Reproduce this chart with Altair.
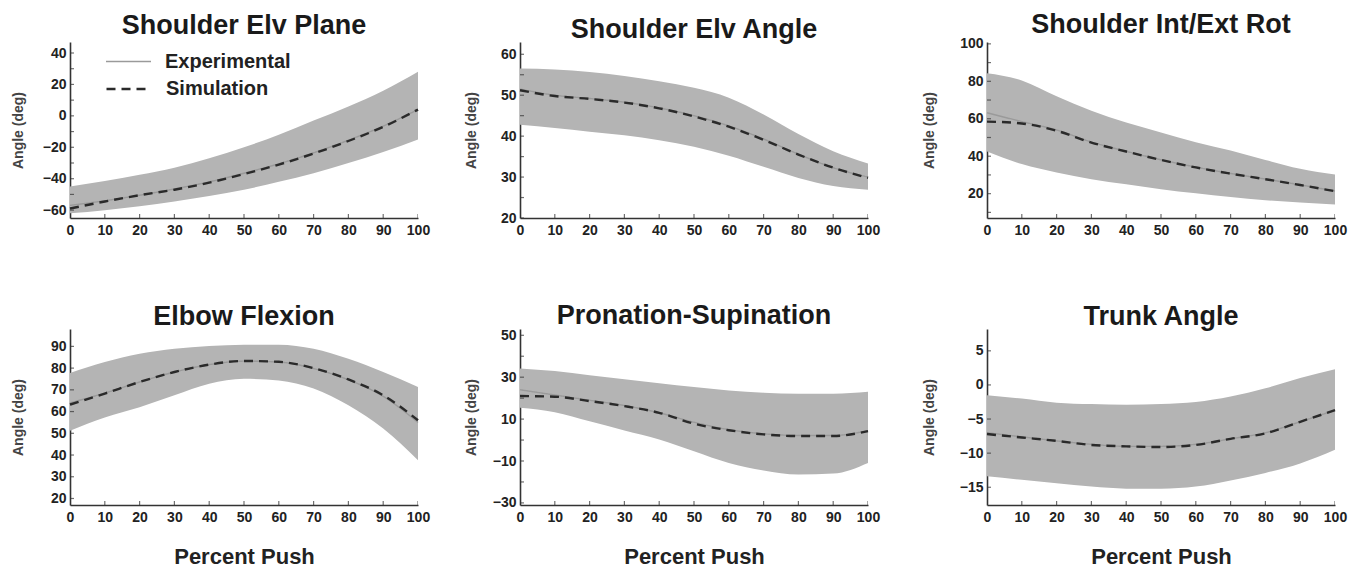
import altair as alt
import pandas as pd

# Percent of the push phase at which each curve is sampled
pct = [0, 10, 20, 30, 40, 50, 60, 70, 80, 90, 100]
series_names = ["Experimental", "Simulation"]

# Shoulder elevation plane (deg): experimental mean +/- SD band, experimental mean, simulation
elv_plane_upper = [-45, -41.5, -37.5, -33, -27, -20, -12, -3, 6, 16, 28]
elv_plane_lower = [-62, -60, -57.5, -54.5, -51, -47, -42, -36.5, -30, -23, -15]
elv_plane_exp = [-57, -54, -50.5, -46.5, -42, -36.5, -30.5, -23.5, -15.5, -6.5, 4]
elv_plane_sim = [-59, -54.5, -50.5, -47, -42.5, -37, -31, -24, -16, -7, 4]

# Shoulder elevation angle (deg)
elv_angle_upper = [56.5, 56.3, 55.7, 54.7, 53.4, 51.8, 49.4, 45.3, 40.5, 36.3, 33.3]
elv_angle_lower = [42.8, 42, 41.1, 40.2, 39, 37.4, 35.2, 32.5, 29.8, 27.8, 26.9]
elv_angle_exp = [51.5, 50, 49.2, 48.3, 46.9, 45, 42.5, 39.3, 35.6, 32.3, 30]
elv_angle_sim = [51.2, 49.8, 49.1, 48.2, 46.8, 44.8, 42.3, 39.1, 35.5, 32.3, 29.8]

# Shoulder internal/external rotation (deg)
rotation_upper = [84.3, 80.5, 72, 64.3, 58, 52.7, 47.5, 43, 38, 33.3, 30.2]
rotation_lower = [42.5, 35.8, 31.3, 27.7, 25, 22.4, 20.2, 18.2, 16.5, 15.3, 14.2]
rotation_exp = [63.2, 58.5, 54, 47.6, 42.6, 38.1, 34.2, 30.8, 27.8, 24.7, 21.4]
rotation_sim = [58.5, 57.5, 53.6, 47.3, 42.5, 38, 34, 30.7, 27.7, 24.6, 21.3]

# Elbow flexion (deg)
elbow_upper = [77.8, 82.8, 86.6, 88.9, 90.2, 90.8, 90.8, 88.9, 84.3, 78.2, 71.3]
elbow_lower = [51.2, 57.3, 62, 67.5, 72.8, 75.1, 74.3, 70.6, 62.9, 52.2, 37.6]
elbow_exp = [64, 68.5, 73.6, 78.2, 81.6, 83.2, 82.8, 79.8, 74.6, 67, 55]
elbow_sim = [63.2, 68.3, 73.6, 78.2, 81.6, 83.3, 82.9, 80, 74.8, 67.5, 56]

# Pronation-supination (deg)
pronation_upper = [34.2, 32.9, 30.9, 29, 27.1, 25.3, 23.7, 22.6, 22.1, 22.1, 23]
pronation_lower = [15.4, 13.3, 9, 4.6, 0.3, -5.3, -10.9, -14.5, -16.5, -16, -10.9]
pronation_exp = [24, 21.5, 19, 16.5, 13, 8.5, 5, 3, 2.2, 2.2, 4.5]
pronation_sim = [21, 20.7, 18.6, 16.2, 13, 7.8, 4.7, 2.7, 1.9, 1.9, 4.3]

# Trunk angle (deg)
trunk_upper = [-1.5, -2, -2.6, -2.8, -2.9, -2.8, -2.5, -1.7, -0.5, 1, 2.3]
trunk_lower = [-13.4, -13.9, -14.4, -14.9, -15.2, -15.2, -14.9, -14, -12.9, -11.5, -9.5]
trunk_exp = [-7, -7.6, -8.2, -8.7, -9, -9, -8.7, -7.9, -7, -5.4, -3.7]
trunk_sim = [-7.2, -7.7, -8.2, -8.8, -9, -9.1, -8.8, -7.9, -7.1, -5.4, -3.7]

# Axis ranges, labelled values and tick positions of each panel
elv_plane_domain, elv_plane_labels = [-65, 47], [-60, -40, -20, 0, 20, 40]
elv_plane_ticks = [-60, -50, -40, -30, -20, -10, 0, 10, 20, 30, 40]
elv_angle_domain, elv_angle_labels = [20, 63], [20, 30, 40, 50, 60]
elv_angle_ticks = [20, 25, 30, 35, 40, 45, 50, 55, 60]
rotation_domain, rotation_labels = [7, 101], [20, 40, 60, 80, 100]
rotation_ticks = [10, 20, 30, 40, 50, 60, 70, 80, 90, 100]
elbow_domain, elbow_labels = [17, 98], [20, 30, 40, 50, 60, 70, 80, 90]
elbow_ticks = [20, 30, 40, 50, 60, 70, 80, 90]
pronation_domain, pronation_labels = [-31, 53], [-30, -10, 10, 30, 50]
pronation_ticks = [-30, -20, -10, 0, 10, 20, 30, 40, 50]
trunk_domain, trunk_labels = [-17.6, 8.2], [-15, -10, -5, 0, 5]
trunk_ticks = [-15, -10, -5, 0, 5]

FONT = "Liberation Sans, Arial, Helvetica, sans-serif"
BAND = "#b4b4b4"
AXIS = "#333333"
EXP_COLOR, SIM_COLOR = "#9a9a9a", "#2a2a2a"
EXP_WIDTH, SIM_WIDTH = 1.4, 2.4
EXP_DASH, SIM_DASH = [1, 0], [9, 6]


def legend_entry(name, y, stroke_color, stroke_width):
    # One-entry legend placed inside the first panel
    return alt.Legend(
        title=None, orient="none", legendX=35, legendY=y, padding=0,
        values=[name], symbolType="stroke", symbolSize=2025, labelOffset=13,
        symbolStrokeColor=stroke_color, symbolStrokeWidth=stroke_width,
        labelFont=FONT, labelFontSize=20, labelFontWeight="bold", labelColor="#222222",
    )


def make_panel(title, upper, lower, exp_mean, sim, y_domain, y_labels, y_ticks,
               y_extent, x_title, show_legend):
    band_df = pd.DataFrame({"pct": pct, "upper": upper, "lower": lower})
    series = [series_names[0]] * len(pct) + [series_names[1]] * len(pct)
    line_df = pd.DataFrame({
        "pct": pct + pct,
        "angle": exp_mean + sim,
        "series": series,
        "series_style": series,
    })
    ytick_df = pd.DataFrame({"pct": [0] * len(y_ticks), "angle": y_ticks})
    xtick_df = pd.DataFrame({"pct": pct, "angle": [y_domain[0]] * len(pct)})

    x_scale = alt.Scale(domain=[0, 100], nice=False, zero=False)
    y_scale = alt.Scale(domain=y_domain, nice=False, zero=False)

    x_axis_args = dict(values=pct, labelFlush=False, labelOverlap=False,
                       labelPadding=5, titlePadding=22, titleFontSize=22)
    x_axis = alt.Axis(title=x_title, **x_axis_args) if x_title else alt.Axis(title=None, **x_axis_args)
    y_axis = alt.Axis(title="Angle (deg)", values=y_labels, labelPadding=4,
                      labelOverlap=False, labelFlush=False,
                      minExtent=y_extent, maxExtent=y_extent, titlePadding=2,
                      titleFontSize=14, titleColor="#444444")

    x_enc = alt.X("pct:Q", scale=x_scale, axis=x_axis)

    band = alt.Chart(band_df).mark_area(color=BAND, opacity=1, interpolate="monotone").encode(
        x=x_enc,
        y=alt.Y("lower:Q", scale=y_scale, axis=y_axis),
        y2="upper:Q",
    )

    if show_legend:
        color_legend = legend_entry(series_names[0], -4, EXP_COLOR, EXP_WIDTH)
        dash_legend = legend_entry(series_names[1], 23, SIM_COLOR, SIM_WIDTH)
    else:
        color_legend = None
        dash_legend = None

    lines = alt.Chart(line_df).mark_line(interpolate="monotone").encode(
        x=x_enc,
        y=alt.Y("angle:Q", scale=y_scale, axis=y_axis),
        color=alt.Color("series:N",
                        scale=alt.Scale(domain=series_names, range=[EXP_COLOR, SIM_COLOR]),
                        legend=color_legend),
        # dash scale lists the simulation first so its legend stays separate
        strokeDash=alt.StrokeDash("series_style:N",
                                  scale=alt.Scale(domain=series_names[::-1], range=[SIM_DASH, EXP_DASH]),
                                  legend=dash_legend),
        strokeWidth=alt.StrokeWidth("series:N",
                                    scale=alt.Scale(domain=series_names, range=[EXP_WIDTH, SIM_WIDTH]),
                                    legend=None),
    )

    y_tick_marks = alt.Chart(ytick_df).mark_tick(
        orient="horizontal", size=8, thickness=1.2, color=AXIS, clip=True
    ).encode(x=x_enc, y=alt.Y("angle:Q", scale=y_scale, axis=y_axis))

    x_tick_marks = alt.Chart(xtick_df).mark_tick(
        orient="vertical", size=8, thickness=1.2, color=AXIS, clip=True
    ).encode(x=x_enc, y=alt.Y("angle:Q", scale=y_scale, axis=y_axis))

    return alt.layer(band, lines, y_tick_marks, x_tick_marks).properties(
        width=348, height=176,
        title=alt.TitleParams(title, offset=-2),
    )


def independent(chart):
    return chart.resolve_scale(
        color="independent", strokeDash="independent", strokeWidth="independent"
    ).resolve_legend(color="independent", strokeDash="independent", strokeWidth="independent")


p1 = make_panel("Shoulder Elv Plane", elv_plane_upper, elv_plane_lower, elv_plane_exp, elv_plane_sim,
                elv_plane_domain, elv_plane_labels, elv_plane_ticks, 43, None, True)
p2 = make_panel("Shoulder Elv Angle", elv_angle_upper, elv_angle_lower, elv_angle_exp, elv_angle_sim,
                elv_angle_domain, elv_angle_labels, elv_angle_ticks, 40, None, False)
p3 = make_panel("Shoulder Int/Ext Rot", rotation_upper, rotation_lower, rotation_exp, rotation_sim,
                rotation_domain, rotation_labels, rotation_ticks, 48.5, None, False)
p4 = make_panel("Elbow Flexion", elbow_upper, elbow_lower, elbow_exp, elbow_sim,
                elbow_domain, elbow_labels, elbow_ticks, 43, "Percent Push", False)
p5 = make_panel("Pronation-Supination", pronation_upper, pronation_lower, pronation_exp, pronation_sim,
                pronation_domain, pronation_labels, pronation_ticks, 40, "Percent Push", False)
p6 = make_panel("Trunk Angle", trunk_upper, trunk_lower, trunk_exp, trunk_sim,
                trunk_domain, trunk_labels, trunk_ticks, 48.5, "Percent Push", False)

row1 = independent(alt.hconcat(independent(alt.hconcat(p1, p2, spacing=34)), p3, spacing=42))
row2 = independent(alt.hconcat(independent(alt.hconcat(p4, p5, spacing=34)), p6, spacing=42))

chart = independent(alt.vconcat(row1, row2, spacing=65)).properties(
    padding={"left": 11, "top": 10, "right": 5, "bottom": 0},
    background="white",
).configure_view(
    stroke=None
).configure_axis(
    grid=False, ticks=False, labelOverlap=False,
    domainColor=AXIS, domainWidth=1.6,
    labelFont=FONT, labelFontSize=14, labelFontWeight="bold", labelColor="#222222",
    titleFont=FONT, titleFontWeight="bold", titleColor="#222222",
).configure_title(
    font=FONT, fontSize=27, fontWeight="bold", color="#1a1a1a",
    anchor="middle", frame="group", baseline="alphabetic",
)

chart.save("out.html", embed_options={"renderer": "svg", "actions": False})
